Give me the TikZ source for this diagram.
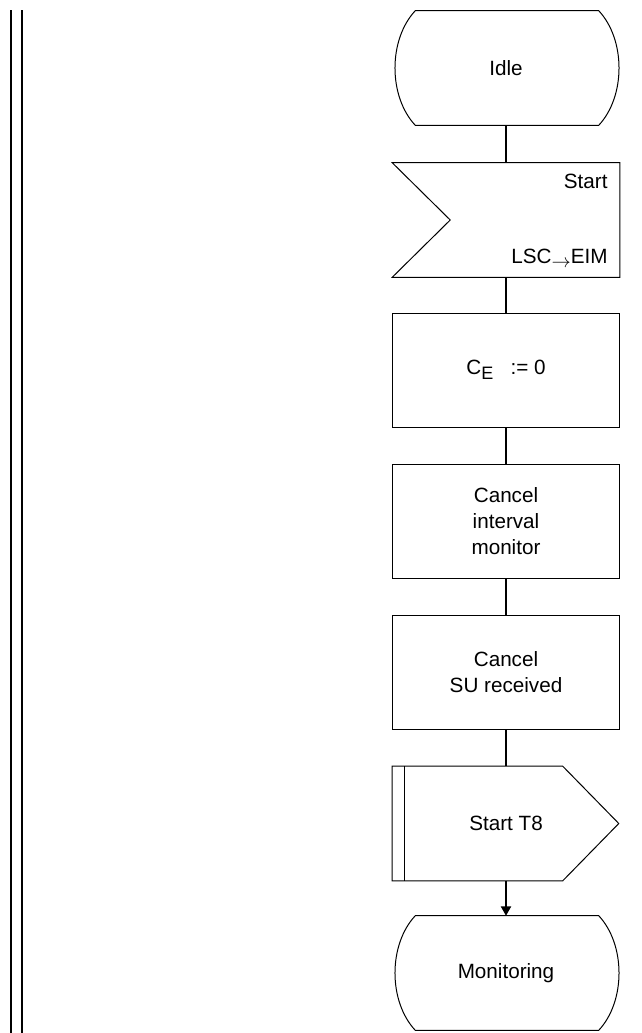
\documentclass[tikz,border=0pt]{standalone}
\usepackage{fontspec}
\setmainfont{Liberation Sans}
\usepackage{tikz}
\usetikzlibrary{arrows.meta,calc,positioning}
\tikzset{
  shapebox/.style={minimum width=170.25pt,minimum height=85.5pt,inner sep=0pt,align=center,
    font=\fontsize{15.5}{19.5}\selectfont},
  box/.style={shapebox,draw,line width=0.75pt},
  outline/.style={line width=0.75pt,line join=miter},
  link/.style={line width=1.5pt},
  rule/.style={line width=1.6pt}
}
\begin{document}
\begin{tikzpicture}[x=0.75pt,y=-0.75pt]
  \useasboundingbox (0,0) rectangle (642,1033);
  % double line on the left
  \draw[rule] (11,10) -- (11,1033);
  \draw[rule] (22,10) -- (22,1033);
  % states and tasks
  \node[shapebox] (idle) at (506,68) {Idle};
  \node[shapebox] (start) at (506,220) {};
  \node[box] (ce) at (506,370) {C\raisebox{-0.5ex}{\fontsize{13.5}{14}\selectfont E}\hspace{13pt}:= 0};
  \node[box] (cim) at (506,521.5) {Cancel\\interval\\monitor};
  \node[box] (csu) at (506,672.5) {Cancel\\SU received};
  \node[shapebox] (t8) at (506,823.5) {Start T8};
  \node[shapebox] (mon) at (506,973) {Monitoring};
  % state outlines
  \draw[outline] ($(idle.north west)+(23,0)$) -- ($(idle.north east)+(-21,0)$)
    .. controls ($(idle.north east)+(6,29)$) and ($(idle.south east)+(6,-29)$) .. ($(idle.south east)+(-21,0)$)
    -- ($(idle.south west)+(23,0)$)
    .. controls ($(idle.south west)+(-4,-29)$) and ($(idle.north west)+(-4,29)$) .. cycle;
  \draw[outline] ($(mon.north west)+(23,0)$) -- ($(mon.north east)+(-21,0)$)
    .. controls ($(mon.north east)+(6,29)$) and ($(mon.south east)+(6,-29)$) .. ($(mon.south east)+(-21,0)$)
    -- ($(mon.south west)+(23,0)$)
    .. controls ($(mon.south west)+(-4,-29)$) and ($(mon.north west)+(-4,29)$) .. cycle;
  % input signal
  \draw[outline] (start.north west) -- (start.north east) -- (start.south east)
    -- (start.south west) -- ($(start.west)+(58,0)$) -- cycle;
  \node[font=\fontsize{15.5}{19.5}\selectfont,anchor=east,inner sep=0pt] (sig) at ($(start.north east)+(-12,19)$) {Start};
  \node[font=\fontsize{15.5}{19.5}\selectfont,anchor=east,inner sep=0pt] (dir) at ($(start.south east)+(-12,-19)$)
    {LSC\raisebox{-2.5pt}{\fontsize{15}{15}\selectfont$\rightarrow$}EIM};
  % timer output
  \draw[outline] (t8.north west) -- ($(t8.north east)+(-57,0)$) -- ($(t8.east)+(-1,0)$)
    -- ($(t8.south east)+(-57,0)$) -- (t8.south west) -- cycle;
  \draw[outline] ($(t8.north west)+(12,0)$) -- ($(t8.south west)+(12,0)$);
  % connectors
  \draw[link] (idle) -- (start);
  \draw[link] (start) -- (ce);
  \draw[link] (ce) -- (cim);
  \draw[link] (cim) -- (csu);
  \draw[link] (csu) -- (t8);
  \draw[link,-{Triangle[length=7pt,width=7.5pt]}] (t8) -- (mon);
\end{tikzpicture}
\end{document}
